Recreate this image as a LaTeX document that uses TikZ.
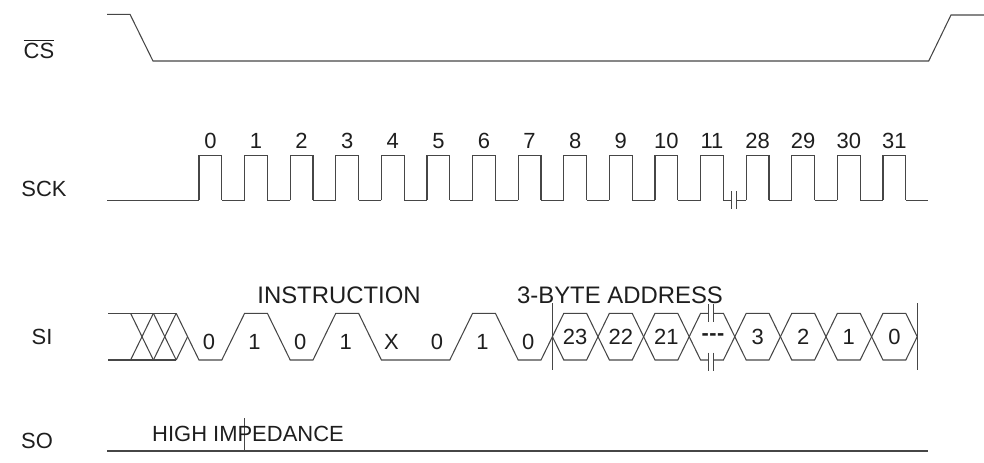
\documentclass[tikz,border=0pt]{standalone}
\usepackage{fontspec}
\setmainfont{Liberation Sans}
\usepackage{xcolor}
\usepackage{tikz}
\usetikzlibrary{calc}
\definecolor{waveline}{RGB}{70,70,70}
\definecolor{labeltext}{RGB}{30,30,30}
% one SCK pulse in slot #1, number #2 above it
\newcommand{\sckpulse}[2]{%
  \pgfmathsetmacro{\rX}{199+45.6*#1}%
  \draw[wave] (\rX,200.3) -- (\rX,155.7) -- (\rX+22.8,155.7) -- (\rX+22.8,200.3);%
  \node[lbl] (ck#1) at (\rX+11.4,141) {#2};%
}
% one address hexagon in slot #1
\newcommand{\sihex}[2]{%
  \pgfmathsetmacro{\rX}{199+45.6*#1}%
  \draw[wave] (\rX-11.4,336.7) -- (\rX,313.3) -- (\rX+22.8,313.3) -- (\rX+34.2,336.7)
    -- (\rX+22.8,360) -- (\rX,360) -- cycle;%
  \node[lbl] (ad#1) at (\rX+11.4,336.7) {#2};%
}
% break mark: two short ticks round (#1,#2)
\newcommand{\brkmark}[2]{%
  \draw[wave] (#1-2.5,#2-9) -- (#1-2.5,#2+9);%
  \draw[wave] (#1+2.5,#2-9) -- (#1+2.5,#2+9);%
}

\begin{document}
\begin{tikzpicture}[x=0.02cm,y=-0.02cm,
  wave/.style={draw=waveline,line width=0.6pt},
  lbl/.style={text=labeltext,font=\fontsize{12.5}{14}\selectfont,inner sep=0pt},
  biglbl/.style={text=labeltext,font=\fontsize{13.6}{16}\selectfont,inner sep=0pt}]
  \useasboundingbox (0,0) rectangle (984,463);
  % signal names
  \node[lbl] (ncs) at (39,49) {$\overline{\mbox{CS}}$};
  \node[lbl] (nsck) at (44,189) {SCK};
  \node[lbl] (nsi) at (42,337) {SI};
  \node[lbl] (nso) at (37,441) {SO};
  % CS
  \draw[wave] (107,14.3) -- (130,14.3) -- (153,61) -- (928.7,61) -- (951,15) -- (984,15);
  % SCK
  \draw[wave] (107,200.3) -- (199,200.3);
  \foreach \j/\n in {0/0,1/1,2/2,3/3,4/4,5/5,6/6,7/7,8/8,9/9,10/10,11/11,12/28,13/29,14/30,15/31}
    {\sckpulse{\j}{\n}}
  \foreach \j in {0,...,10,12,13,14}
    {\draw[wave] ({199+45.6*\j+22.8},200.3) -- ({199+45.6*(\j+1)},200.3);}
  \draw[wave] (723.4,200.3) -- (731.7,200.3);
  \draw[wave] (736.7,200.3) -- (746.2,200.3);
  \brkmark{734.2}{200.3}
  \draw[wave] (905.8,200.3) -- (928.3,200.3);
  % SI: don't care
  \draw[wave] (108,313.3) -- (176.2,313.3);
  \draw[wave] (108,360) -- (176.2,360);
  \foreach \h in {130.6,153.4} {
    \draw[wave] (\h,360) -- (\h+22.8,313.3);
    \draw[wave] (\h,313.3) -- (\h+22.8,360);
  }
  \draw[wave] (176.2,360) -- (187.6,336.7);
  % SI: instruction bits
  \draw[wave] (176.2,313.3) -- (199,360) -- (221.8,360) -- (244.6,313.3) -- (267.4,313.3)
    -- (290.2,360) -- (313,360) -- (335.8,313.3) -- (358.6,313.3) -- (381.4,360)
    -- (449.8,360) -- (472.6,313.3) -- (495.4,313.3) -- (518.2,360) -- (541,360) -- (552.4,336.7);
  \foreach \j/\b in {0/0,1/1,2/0,3/1,4/X,5/0,6/1,7/0}
    {\node[lbl] (bit\j) at ({199+45.6*\j+10},341.7) {\b};}
  % SI: address
  \sihex{8}{23}
  \sihex{9}{22}
  \sihex{10}{21}
  \draw[wave] (689.2,336.7) -- (700.6,313.3) -- (708.3,313.3);
  \draw[wave] (713.3,313.3) -- (723.4,313.3) -- (734.8,336.7) -- (723.4,360) -- (713.3,360);
  \draw[wave] (708.3,360) -- (700.6,360) -- (689.2,336.7);
  \brkmark{710.8}{313.3}
  \brkmark{710.8}{361.5}
  \node[lbl,font=\fontsize{12.3}{14}\selectfont\bfseries] (ad11) at (713,336.7) {-\kern0.3pt-\kern0.3pt-};
  \sihex{12}{3}
  \sihex{13}{2}
  \sihex{14}{1}
  \sihex{15}{0}
  \draw[wave] (552.4,303) -- (552.4,370);
  \draw[wave] (917.2,303) -- (917.2,370);
  \node[biglbl] (instr) at (339,295) {INSTRUCTION};
  \node[biglbl] (addr) at (620,295) {3-BYTE ADDRESS};
  % SO
  \draw[wave] (107,451) -- (928.3,451);
  \draw[wave] (244.6,418) -- (244.6,452);
  \node[lbl] (himp) at (248,434) {HIGH IMPEDANCE};
\end{tikzpicture}
\end{document}
